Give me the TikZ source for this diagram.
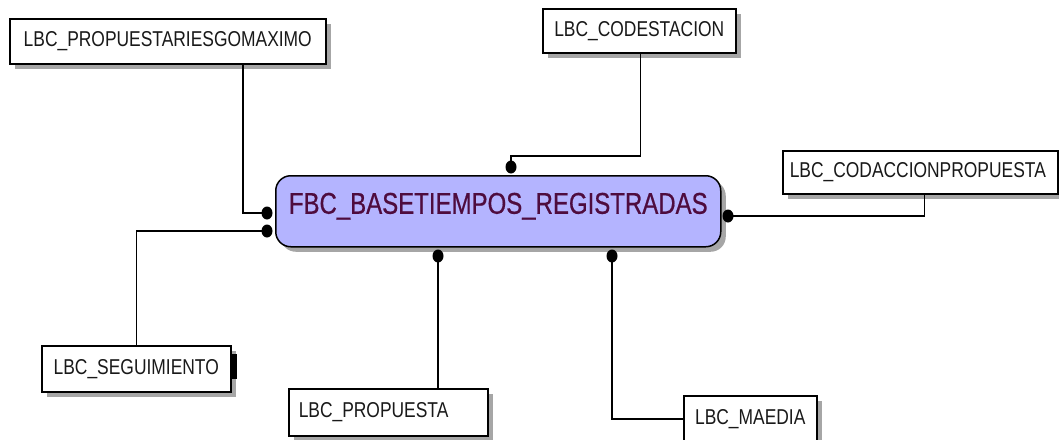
\documentclass[tikz,border=0pt]{standalone}
\usepackage{fontspec}
\setmainfont{Liberation Sans}[FakeStretch=0.81]
\newfontfamily\entfont{Liberation Sans}[FakeStretch=0.8, FakeBold=0.6]
\usepackage{tikz}
\usetikzlibrary{shadows, shapes.geometric}
\definecolor{entfill}{RGB}{180,180,255}
\definecolor{entText}{RGB}{78,12,62}

\begin{document}
\begin{tikzpicture}[x=1pt, y=-1pt,
  tbl/.style={draw, line width=1.5pt, fill=white, anchor=north west, inner sep=0pt,
    font=\fontsize{21.5}{23}\selectfont, text=black!90,
    general shadow={fill=gray!70, shadow xshift=5pt, shadow yshift=-5pt}},
  link/.style={line width=1.5pt},
  dot/.style={fill=black, ellipse, inner sep=0pt, minimum width=11pt, minimum height=13pt}]
\useasboundingbox (0,0) rectangle (1059,439);
\clip (0,0) rectangle (1059,439);
% the fact table
\node[draw, line width=1.5pt, fill=entfill, rounded corners=15pt, anchor=north west, inner sep=0pt,
  minimum width=445pt, text height=38pt, text depth=33pt, text=entText,
  font=\entfont\fontsize{30}{32}\selectfont,
  general shadow={fill=gray!70, shadow xshift=5pt, shadow yshift=-5pt}]
  (fbc) at (275,175) {FBC\_BASETIEMPOS\_REGISTRADAS};
% dimensions
\node[tbl, minimum width=316pt, minimum height=45pt] (maximo) at (9,18) {LBC\_PROPUESTARIESGOMAXIMO};
\node[tbl, minimum width=193pt, minimum height=44pt] (codest) at (542,8) {LBC\_CODESTACION};
\node[tbl, minimum width=275pt, minimum height=43pt, text width=261pt, align=left]
  (codacc) at (782,150) {LBC\_CODACCIONPROPUESTA};
\node[tbl, minimum width=189pt, minimum height=46pt] (seg) at (41,345) {LBC\_SEGUIMIENTO};
\node[tbl, minimum width=199pt, minimum height=47pt, text width=179pt, align=left]
  (propuesta) at (288,388) {LBC\_PROPUESTA};
\node[tbl, minimum width=133pt, minimum height=46pt] (maedia) at (683,395) {LBC\_MAEDIA};
\fill (231,354) rectangle (237,379);
% joins
\node[dot] (d1) at (267,213) {};
\node[dot] (d2) at (267,231) {};
\node[dot] (d3) at (511,167) {};
\node[dot] (d4) at (728,216) {};
\node[dot] (d5) at (438,256) {};
\node[dot] (d6) at (612,256) {};
\draw[link] (d1.center) -| ([xshift=75pt]maximo.south);
\draw[link] (d2.center) -| (seg.north);
\draw[link] (d3.center) -- ++(0,-11) -| ([xshift=1pt]codest.south);
\draw[link] (d4.center) -| ([xshift=4pt]codacc.south);
\draw[link] (d5.center) -- (d5 |- propuesta.north);
\draw[link] (d6.center) |- (maedia.west);
\end{tikzpicture}
\end{document}
